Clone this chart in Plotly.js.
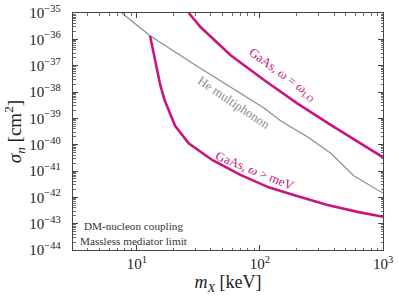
<!DOCTYPE html>
<html>
<head>
<meta charset="utf-8">
<script src="https://cdn.plot.ly/plotly-3.0.1.min.js"></script>
<style>html,body{margin:0;padding:0;background:#fff}#chart{width:399px;height:303px}</style>
</head>
<body>
<div id="chart"></div>
<script>
// m_X [keV]
var heMass = [7.55, 12.8, 32.8, 57.5, 108, 147, 243, 376, 582, 1000];
var heSigma = [1.0e-35, 1.38e-36, 7.9e-38, 1.58e-38, 2.45e-39, 8.1e-40, 2.0e-40, 4.7e-41, 6.5e-42, 1.45e-42];

var loMass = [26.4, 32.8, 57.5, 108, 201, 376, 1000];
var loSigma = [1.0e-35, 3.0e-36, 2.54e-37, 2.85e-38, 3.7e-39, 5.6e-40, 3.3e-41];

var mevMass = [12.8, 15.5, 16.8, 20.5, 26.4, 40.9, 69.5, 118, 188, 354, 621, 1000];
var mevSigma = [1.37e-36, 1.85e-38, 4.97e-39, 5.1e-40, 1.13e-40, 2.62e-41, 7.1e-42, 2.4e-42, 1.23e-42, 5.1e-43, 2.8e-43, 1.82e-43];

var xTickVals = [10, 100, 1000];
var xTickText = ['10<sup>1</sup>', '10<sup>2</sup>', '10<sup>3</sup>'];
var yTickVals = [1e-44, 1e-43, 1e-42, 1e-41, 1e-40, 1e-39, 1e-38, 1e-37, 1e-36, 1e-35];
var yTickText = ['10<sup>−44</sup>', '10<sup>−43</sup>', '10<sup>−42</sup>', '10<sup>−41</sup>', '10<sup>−40</sup>',
                 '10<sup>−39</sup>', '10<sup>−38</sup>', '10<sup>−37</sup>', '10<sup>−36</sup>', '10<sup>−35</sup>'];

var labels = {
  lo: 'GaAs, <i>ω</i> = <i>ω</i><sub>LO</sub>',
  he: 'He multiphonon',
  mev: 'GaAs, <i>ω</i> > meV',
  note: 'DM-nucleon coupling<br>Massless mediator limit'
};

var magenta = '#cc1480';
var gray = '#8c8c8c';
var font = "'Liberation Serif', 'DejaVu Serif', serif";

var traces = [
  {x: heMass, y: heSigma, mode: 'lines', line: {color: gray, width: 1.2}, hoverinfo: 'skip'},
  {x: loMass, y: loSigma, mode: 'lines', line: {color: magenta, width: 2.6}, hoverinfo: 'skip'},
  {x: mevMass, y: mevSigma, mode: 'lines', line: {color: magenta, width: 2.6}, hoverinfo: 'skip'}
];

var axisCommon = {
  type: 'log',
  showgrid: false,
  zeroline: false,
  showline: true,
  linecolor: '#444',
  linewidth: 1.3,
  mirror: 'ticks',
  ticks: 'inside',
  ticklen: 5,
  tickwidth: 1,
  tickcolor: '#444',
  tickmode: 'array',
  tickfont: {family: font, size: 15, color: '#222'},
  minor: {ticks: 'inside', ticklen: 2.5, tickwidth: 0.8, tickcolor: '#444', showgrid: false, dtick: 'D1'}
};

var layout = {
  width: 399, height: 303,
  margin: {l: 73, r: 16, t: 13, b: 53},
  paper_bgcolor: '#fff', plot_bgcolor: '#fff',
  showlegend: false,
  font: {family: font, color: '#222'},
  xaxis: Object.assign({}, axisCommon, {
    range: [Math.log10(3.03), 3],
    tickvals: xTickVals, ticktext: xTickText,
    ticklabelstandoff: 0,
    title: {text: '<i>m</i><sub><i>X</i></sub> [keV]', font: {family: font, size: 18, color: '#222'}, standoff: 1}
  }),
  yaxis: Object.assign({}, axisCommon, {
    range: [-44, -35],
    tickvals: yTickVals, ticktext: yTickText,
    ticklabelstandoff: 8,
    title: {text: '<i>σ</i><sub><i>n</i></sub> [cm<sup>2</sup>]', font: {family: font, size: 19, color: '#222'}, standoff: 2}
  }),
  annotations: [
    {x: 2.18, y: -37.37, xref: 'x', yref: 'y', text: labels.lo, showarrow: false, textangle: 36,
     font: {family: font, size: 12.8, color: magenta}, xanchor: 'center', yanchor: 'middle'},
    {x: 1.79, y: -38.4, xref: 'x', yref: 'y', text: labels.he, showarrow: false, textangle: 34,
     font: {family: font, size: 12.8, color: gray}, xanchor: 'center', yanchor: 'middle'},
    {x: 1.96, y: -41.0, xref: 'x', yref: 'y', text: labels.mev, showarrow: false, textangle: 22,
     font: {family: font, size: 12.8, color: magenta}, xanchor: 'center', yanchor: 'middle'},
    {x: 0.197, y: 0.07, xref: 'paper', yref: 'paper', text: labels.note, showarrow: false, align: 'center',
     font: {family: font, size: 11.2, color: '#333'}, xanchor: 'center', yanchor: 'middle'}
  ]
};

Plotly.newPlot('chart', traces, layout, {staticPlot: true, displayModeBar: false});
</script>
</body>
</html>
